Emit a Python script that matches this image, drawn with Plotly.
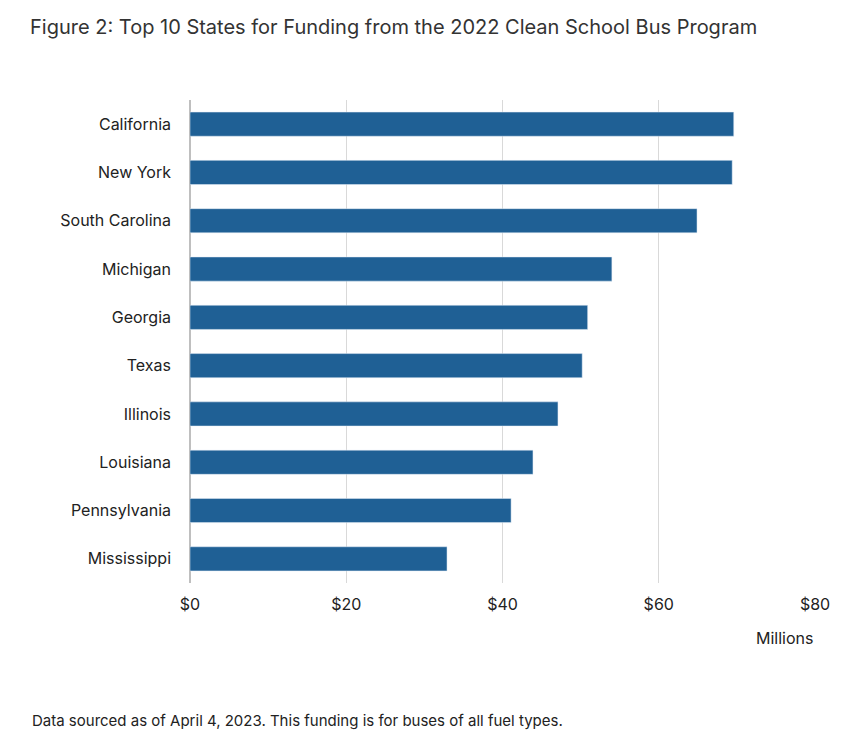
import plotly.graph_objects as go

# estados y financiacion (millones de $), de mayor a menor
estados = ["California", "New York", "South Carolina", "Michigan", "Georgia",
           "Texas", "Illinois", "Louisiana", "Pennsylvania", "Mississippi"]
fondos = [69.6, 69.4, 64.9, 54.0, 50.9, 50.2, 47.1, 43.9, 41.1, 32.9]
ticks = [0, 20, 40, 60, 80]
ticks_txt = ["$0", "$20", "$40", "$60", "$80"]

fuente = "Inter, Open Sans, sans-serif"

fig = go.Figure()
fig.add_trace(go.Bar(x=fondos, y=estados, orientation="h",
                     marker_color="#1f6095", width=0.5))

fig.update_layout(
    width=866, height=736,
    margin=dict(l=182, r=59, t=92, b=161, autoexpand=False),
    plot_bgcolor="white", paper_bgcolor="white",
    font=dict(family=fuente, size=16, color="#222"),
    showlegend=False,
    title=dict(text="Figure 2: Top 10 States for Funding from the 2022 Clean School Bus Program",
               x=22 / 866, xanchor="left", y=0.974, yanchor="middle", pad=dict(l=0),
               font=dict(size=20, color="#333")),
    xaxis=dict(range=[0, 80], tickmode="array", tickvals=ticks, ticktext=ticks_txt,
               showgrid=True, gridcolor="#d9d9d9", zeroline=True, zerolinecolor="#bfbfbf",
               ticks="", ticklabelstandoff=10, tickfont=dict(size=16)),
    yaxis=dict(autorange="reversed", ticks="", ticklabelstandoff=18,
               tickfont=dict(size=16)),
    annotations=[
        dict(text="Millions", x=80, xref="x", y=-0.114, yref="paper",
             xanchor="right", yanchor="middle", showarrow=False, font=dict(size=16)),
        dict(text="Data sourced as of April 4, 2023. This funding is for buses of all fuel types.",
             x=(22 - 182) / 625, xref="paper", xanchor="left", y=-0.284, yref="paper",
             yanchor="middle", showarrow=False, font=dict(size=15, color="#222")),
    ],
)

fig.write_html("out.html")
